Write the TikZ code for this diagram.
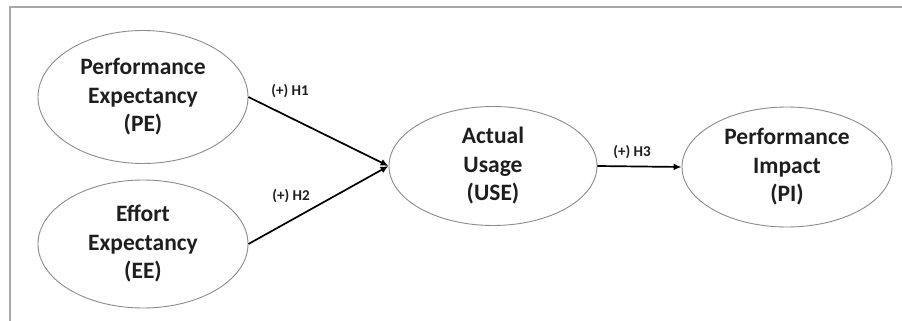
\documentclass[tikz,border=0pt]{standalone}
\usepackage{fontspec}
\setmainfont{Carlito}
\usetikzlibrary{shapes.geometric,arrows.meta}
\definecolor{framegray}{HTML}{A8A8A8}
\definecolor{ellgray}{HTML}{8C8C8C}
\definecolor{txt}{HTML}{1E1E1E}
\tikzset{
  construct/.style={ellipse, draw=ellgray, line width=0.9pt, inner sep=0pt,
    minimum width=210pt, minimum height=128pt, align=center,
    font=\fontsize{23.5}{28.5}\selectfont\bfseries, text=txt},
  path/.style={draw=black, line width=1.7pt, -{Latex[length=8pt,width=7pt]}},
  hyp/.style={font=\fontsize{15}{17}\selectfont\bfseries, text=txt, inner sep=0pt},
  frame/.style={draw=framegray, line width=1.2pt}
}
\begin{document}
\begin{tikzpicture}[x=1pt,y=-1pt]
\useasboundingbox (0,0) rectangle (902,321);
\fill[white] (0,0) rectangle (902,321);
\coordinate (fa) at (10,321);
\coordinate (fb) at (10,7);
\coordinate (fc) at (902,7);
\draw[frame] (fa) -- (fb) -- (fc);
\node[construct, minimum height=133pt] (pe) at (143,97) {Performance\\Expectancy\\(PE)};
\node[construct] (ee) at (143,244) {Effort\\Expectancy\\(EE)};
\node[construct, minimum height=119pt, minimum width=208pt] (use) at (493,166) {Actual\\Usage\\(USE)};
\node[construct, minimum height=120pt] (pi) at (787,167) {Performance\\Impact\\(PI)};
\draw[path] (pe.east) -- (use.west);
\draw[path] (ee.east) -- (use.west);
\draw[path] (use.east) -- (pi.west);
\node[hyp] (h1) at (290,91) {(+) H1};
\node[hyp] (h2) at (291,196) {(+) H2};
\node[hyp] (h3) at (632,152) {(+) H3};
\end{tikzpicture}
\end{document}
